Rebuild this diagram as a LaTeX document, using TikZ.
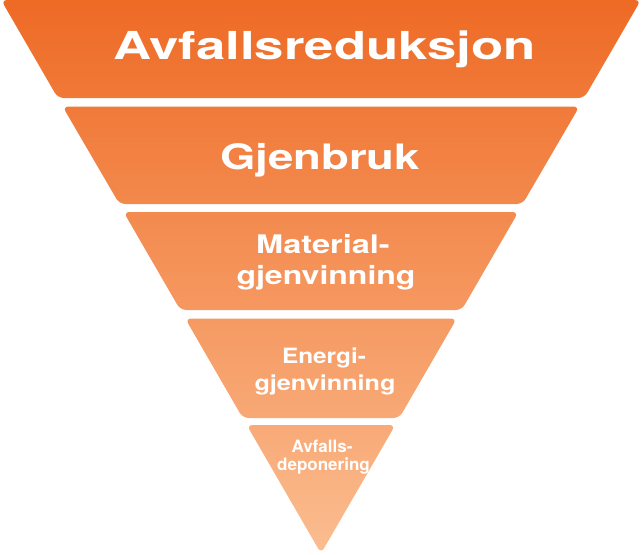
\documentclass[tikz,border=0pt]{standalone}
\usepackage{fontspec}
\usepackage{graphicx}
\setmainfont{TeX Gyre Heros}
\definecolor{ctop}{HTML}{EE6A25}
\definecolor{cbot}{HTML}{FBBD90}
\newcommand{\sx}[2]{\scalebox{#1}[1]{#2}}
\tikzset{
  band/.style={rounded corners=6pt},
  lbl/.style={text=white, font=\bfseries, anchor=base, inner sep=0pt},
}
\begin{document}
\begin{tikzpicture}[x=1pt,y=-1pt]
\useasboundingbox (0,0) rectangle (642,554);
% edge: x = 321 -/+ 0.578*(553.5-y)
% Band 1: y 0 -> 98
\shade[band, top color=ctop, bottom color=cbot!17.7!ctop]
  (1.1,0) -- (640.9,0) -- (584.2,98) -- (57.8,98) -- cycle;
% Band 2: y 106.5 -> 204
\shade[band, top color=cbot!19.3!ctop, bottom color=cbot!37!ctop]
  (62.6,106.5) -- (579.4,106.5) -- (522.6,204) -- (119.4,204) -- cycle;
% Band 3: y 212 -> 310
\shade[band, top color=cbot!38.4!ctop, bottom color=cbot!56!ctop]
  (123.6,212) -- (518.4,212) -- (461.7,310) -- (180.3,310) -- cycle;
% Band 4: y 318.5 -> 418
\shade[band, top color=cbot!57.6!ctop, bottom color=cbot!75.5!ctop]
  (185.2,318.5) -- (456.8,318.5) -- (399.3,418) -- (242.7,418) -- cycle;
% Band 5: y 425 -> apex 553.5
\shade[band, top color=cbot!76.8!ctop, bottom color=cbot]
  (246.7,425) -- (395.3,425) -- (321,553.5) -- cycle;

\node[lbl, font=\bfseries\fontsize{38.5}{40}\selectfont] (t1) at (324.5,59.3) {\sx{1.37}{Avfallsreduksjon}};
\node[lbl, font=\bfseries\fontsize{35}{40}\selectfont] (t2) at (320,169) {\sx{1.3}{Gjenbruk}};
\node[lbl, font=\bfseries\fontsize{25.6}{31}\selectfont] (t3a) at (323,253.3) {\sx{1.27}{Material-}};
\node[lbl, font=\bfseries\fontsize{25.6}{31}\selectfont] (t3b) at (326,284.3) {\sx{1.25}{gjenvinning}};
\node[lbl, font=\bfseries\fontsize{21}{26.7}\selectfont] (t4a) at (324,363.3) {\sx{1.16}{Energi-}};
\node[lbl, font=\bfseries\fontsize{21}{26.7}\selectfont] (t4b) at (325,390) {\sx{1.2}{gjenvinning}};
\node[lbl, font=\bfseries\fontsize{17}{18}\selectfont] (t5a) at (322,452) {Avfalls-};
\node[lbl, font=\bfseries\fontsize{17}{18}\selectfont] (t5b) at (323.5,470) {deponering};
\end{tikzpicture}
\end{document}
